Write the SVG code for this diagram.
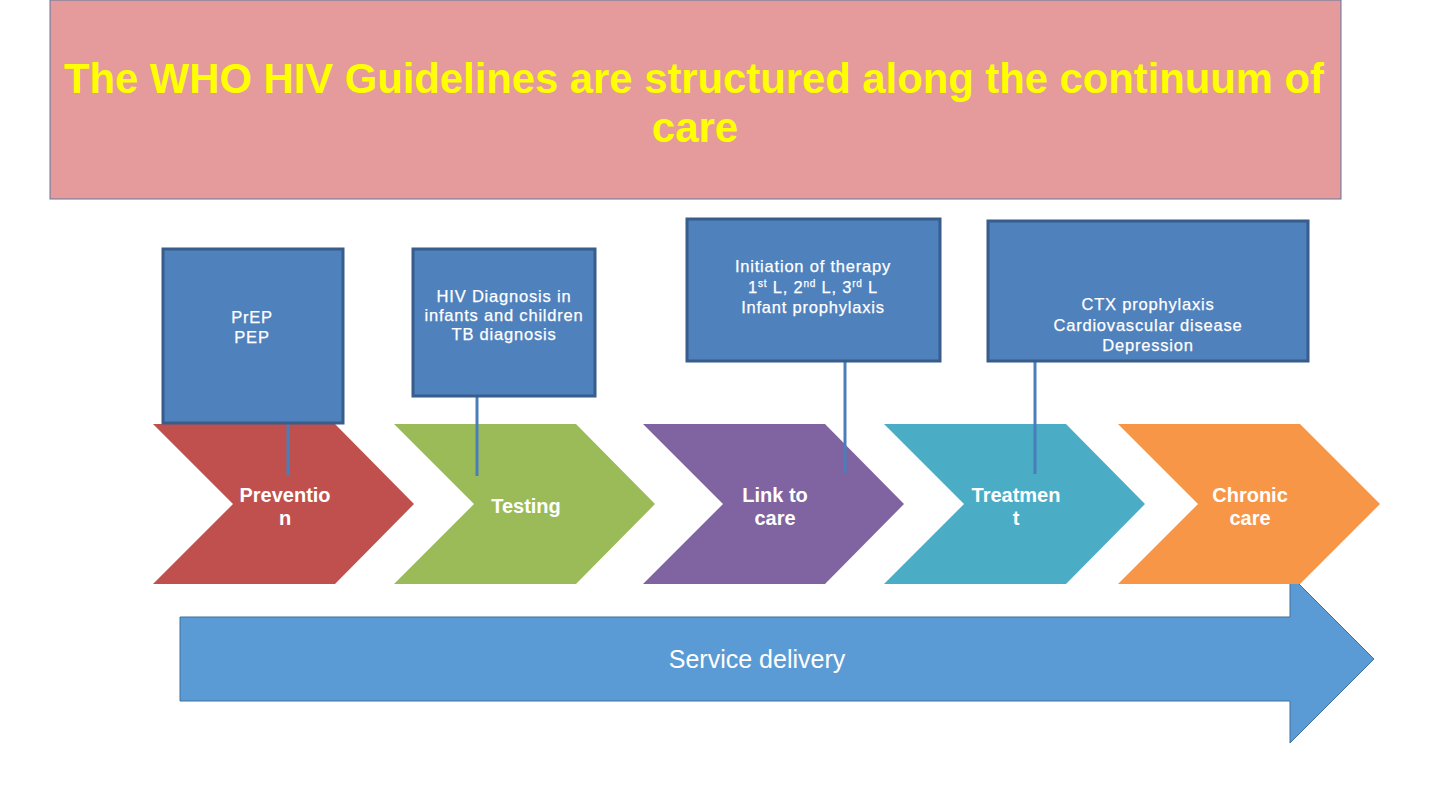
<svg xmlns="http://www.w3.org/2000/svg" width="1440" height="810" viewBox="0 0 1440 810">
<style>
.title{font-family:"Liberation Sans",Arial,sans-serif;font-size:42px;font-weight:bold;fill:#FFFF00;text-anchor:middle}
.box{fill:#4F81BD;stroke:#385D8A;stroke-width:3}
.bt{font-family:"Liberation Sans",Arial,sans-serif;font-size:16.5px;letter-spacing:0.8px;fill:#fff;text-anchor:middle;stroke:#fff;stroke-width:0.25}
.ct{font-family:"Liberation Sans",Arial,sans-serif;font-size:20px;font-weight:bold;fill:#fff;text-anchor:middle}
.conn{stroke:#4A7EBB;stroke-width:3;fill:none}
.sd{font-family:"Liberation Sans",Arial,sans-serif;font-size:25px;fill:#fff;text-anchor:middle}
</style>
<rect width="1440" height="810" fill="#fff"/>
<g id="title">
<rect x="50" y="0" width="1291" height="199" fill="#E59A9B" stroke="#5A7AA0" stroke-width="1"/>
<text class="title" x="694" y="93" textLength="1260" lengthAdjust="spacingAndGlyphs">The WHO HIV Guidelines are structured along the continuum of</text>
<text class="title" x="695" y="142">care</text>
</g>
<g id="service-delivery">
<polygon points="180,617 1290,617 1290,575 1374,659 1290,743 1290,701 180,701" fill="#5B9BD5" stroke="#41719C" stroke-width="1"/>
<text class="sd" x="757" y="668">Service delivery</text>
</g>
<g id="prevention">
<polygon points="153,424 335,424 414,504 335,584 153,584 233,504" fill="#C0504D"/>
<text class="ct" x="285" y="502">Preventio</text>
<text class="ct" x="285" y="525">n</text>
</g>
<g id="testing">
<polygon points="394,424 576,424 655,504 576,584 394,584 474,504" fill="#9BBB59"/>
<text class="ct" x="526" y="513">Testing</text>
</g>
<g id="link-to-care">
<polygon points="643,424 825,424 904,504 825,584 643,584 723,504" fill="#8064A2"/>
<text class="ct" x="775" y="502">Link to</text>
<text class="ct" x="775" y="525">care</text>
</g>
<g id="treatment">
<polygon points="884,424 1066,424 1145,504 1066,584 884,584 964,504" fill="#4BACC6"/>
<text class="ct" x="1016" y="502">Treatmen</text>
<text class="ct" x="1016" y="525">t</text>
</g>
<g id="chronic-care">
<polygon points="1118,424 1300,424 1380,504 1300,584 1118,584 1198,504" fill="#F79646"/>
<text class="ct" x="1250" y="502">Chronic</text>
<text class="ct" x="1250" y="525">care</text>
</g>
<g id="connectors">
<line class="conn" x1="288" y1="423" x2="288" y2="476"/>
<line class="conn" x1="477" y1="396" x2="477" y2="476"/>
<line class="conn" x1="845" y1="361" x2="845" y2="474"/>
<line class="conn" x1="1035" y1="361" x2="1035" y2="474"/>
</g>
<g id="box-prevention">
<rect class="box" x="163" y="249" width="180" height="174"/>
<text class="bt" x="252" y="323">PrEP</text>
<text class="bt" x="252" y="343">PEP</text>
</g>
<g id="box-testing">
<rect class="box" x="413" y="249" width="182" height="147"/>
<text class="bt" x="504" y="302">HIV Diagnosis in</text>
<text class="bt" x="504" y="321">infants and children</text>
<text class="bt" x="504" y="340">TB diagnosis</text>
</g>
<g id="box-link">
<rect class="box" x="687" y="219" width="253" height="142"/>
<text class="bt" x="813" y="272">Initiation of therapy</text>
<text class="bt" x="813" y="293">1<tspan font-size="10" dy="-6">st</tspan><tspan dy="6"> L, 2</tspan><tspan font-size="10" dy="-6">nd</tspan><tspan dy="6"> L, 3</tspan><tspan font-size="10" dy="-6">rd</tspan><tspan dy="6"> L</tspan></text>
<text class="bt" x="813" y="313">Infant prophylaxis</text>
</g>
<g id="box-treatment">
<rect class="box" x="988" y="221" width="320" height="140"/>
<text class="bt" x="1148" y="310">CTX prophylaxis</text>
<text class="bt" x="1148" y="331">Cardiovascular disease</text>
<text class="bt" x="1148" y="351">Depression</text>
</g>
</svg>
